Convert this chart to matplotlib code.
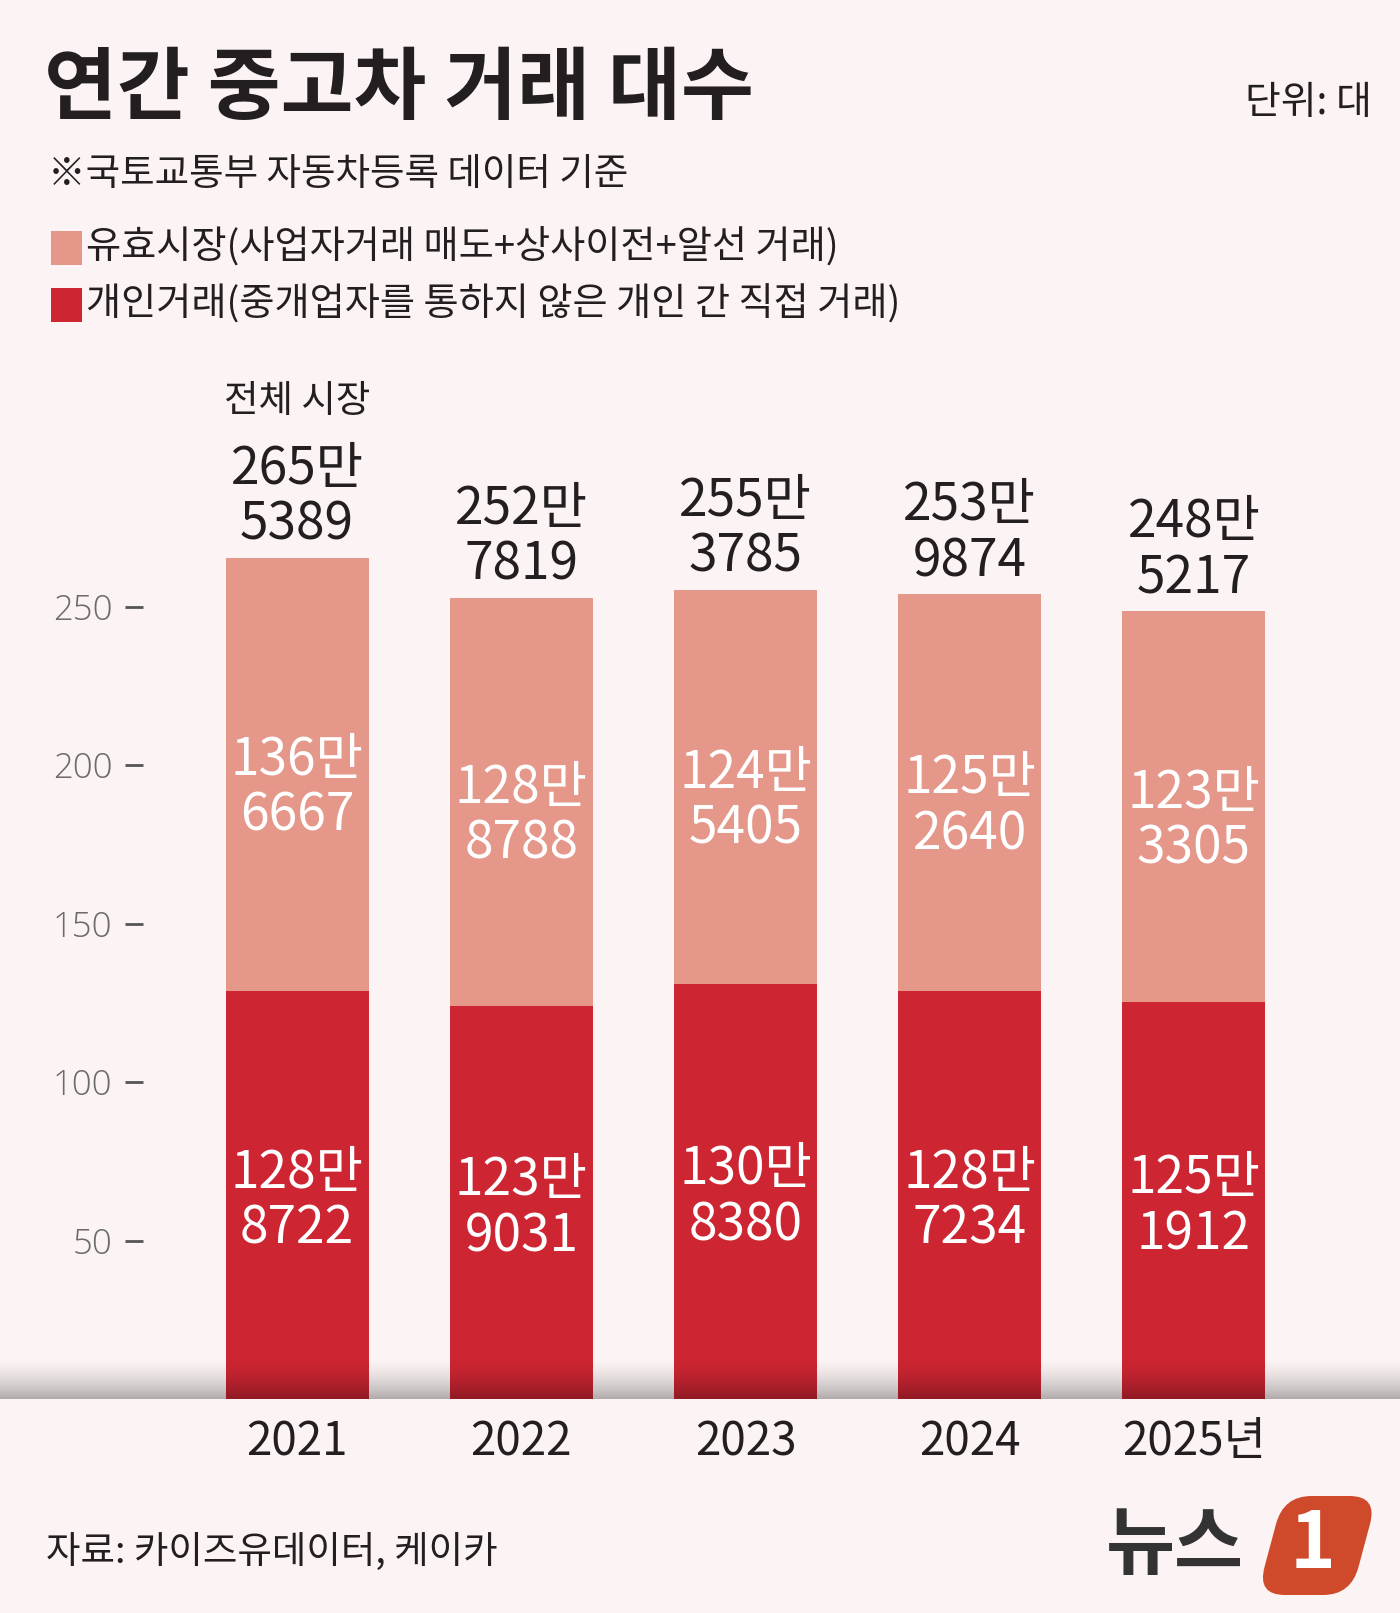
import numpy as np
import matplotlib.pyplot as plt
from matplotlib.patches import FancyBboxPatch, Rectangle
from matplotlib.transforms import Affine2D

# data (unit: 만 대)
years = ['2021', '2022', '2023', '2024', '2025년']
individual = [128.8722, 123.9031, 130.8380, 128.7234, 125.1912]
effective = [136.6667, 128.8788, 124.5405, 125.2640, 123.3305]
individual_lbl = ['128만\n8722', '123만\n9031', '130만\n8380', '128만\n7234', '125만\n1912']
effective_lbl = ['136만\n6667', '128만\n8788', '124만\n5405', '125만\n2640', '123만\n3305']
total_lbl = ['265만\n5389', '252만\n7819', '255만\n3785', '253만\n9874', '248만\n5217']
yticks = [50, 100, 150, 200, 250]

BG = '#fcf4f4'
RED = '#cd2532'
SALMON = '#e5978a'
INK = '#231f20'
KR = ['Noto Sans CJK KR', 'DejaVu Sans']

W, H = 1400, 1613
fig = plt.figure(figsize=(W / 100, H / 100), dpi=100, facecolor=BG)


def fx(x):
    return x / W


def fy(y):
    return 1 - y / H


def pt(px):
    return px * 0.72


# header
fig.text(fx(44), fy(90), '연간 중고차 거래 대수', family=KR, fontsize=57, fontweight='bold',
         color=INK, va='center', ha='left')
fig.text(fx(1372), fy(103), '단위: 대', family=KR, fontsize=28, color=INK, va='center', ha='right')
fig.text(fx(48), fy(175), '※국토교통부 자동차등록 데이터 기준', family=KR, fontsize=27, color=INK,
         va='center', ha='left')

legend_items = [(SALMON, '유효시장(사업자거래 매도+상사이전+알선 거래)', 248),
                (RED, '개인거래(중개업자를 통하지 않은 개인 간 직접 거래)', 305)]
for col, txt, yc in legend_items:
    fig.patches.append(Rectangle((fx(51), fy(yc + 17)), 31 / W, 34 / H, transform=fig.transFigure,
                                 facecolor=col, edgecolor='none'))
    fig.text(fx(86), fy(yc), txt, family=KR, fontsize=27.5, color=INK, va='center', ha='left')

# chart
ax = fig.add_axes([fx(162.5), fy(1399), 1166 / W, (1399 - 480) / H])
ax.set_facecolor('none')
x = np.arange(len(years))
bw = 0.638
ax.bar(x, individual, width=bw, color=RED, zorder=2)
tops = np.array(individual) + np.array(effective)
ax.bar(x, effective, bottom=individual, width=bw, color=SALMON, zorder=2)
ax.set_xlim(-0.6, 4.6)
ax.set_ylim(0, 290)

for s in ['top', 'right', 'bottom']:
    ax.spines[s].set_visible(False)
ax.spines['left'].set_position(('outward', pt(20)))
ax.spines['left'].set_visible(False)
ax.set_yticks(yticks, [str(v) for v in yticks])
ax.tick_params(axis='y', length=pt(18), width=2, color='#555555', pad=pt(12),
               labelsize=25, labelcolor='#6b6b6b')
for lab in ax.get_yticklabels():
    lab.set_family(['Open Sans', 'DejaVu Sans'])
    lab.set_fontweight('light')
ax.set_xticks(x, years)
ax.tick_params(axis='x', length=0, pad=pt(19), labelsize=33, labelcolor=INK)
for lab in ax.get_xticklabels():
    lab.set_family(KR)

fs = 37
for i in range(len(years)):
    ax.annotate(individual_lbl[i], (x[i], individual[i] / 2), xytext=(0, pt(-6)),
                textcoords='offset points', ha='center', va='center', fontsize=fs,
                family=KR, color='white', linespacing=1.06, zorder=4)
    ax.annotate(effective_lbl[i], (x[i], individual[i] + effective[i] / 2), xytext=(0, pt(-14)),
                textcoords='offset points', ha='center', va='center', fontsize=fs,
                family=KR, color='white', linespacing=1.06, zorder=4)
    ax.annotate(total_lbl[i], (x[i], tops[i]), xytext=(0, pt(6)),
                textcoords='offset points', ha='center', va='bottom', fontsize=fs,
                family=KR, color=INK, linespacing=1.06, zorder=4)

ax.annotate('전체 시장', (x[0], tops[0]), xytext=(0, pt(156)), textcoords='offset points',
            ha='center', va='center', fontsize=27, family=KR, color=INK)

# shadow at the base line
sh = fig.add_axes([0, fy(1399), 1, 43 / H], zorder=5)
t = np.linspace(0, 1, 64)[:, None]
grad = np.zeros((64, 2, 4))
grad[..., 3] = 0.30 * (t ** 1.6)
sh.imshow(grad, aspect='auto', extent=(0, 1, 0, 1), origin='upper')
sh.axis('off')

# footer
fig.text(fx(46), fy(1553), '자료: 카이즈유데이터, 케이카', family=KR, fontsize=27, color=INK,
         va='center', ha='left')
fig.text(fx(1175), fy(1546), '뉴스', family=KR, fontsize=54, fontweight='bold', color='#333333',
         va='center', ha='center')
y0 = H - 1595
logo_tr = Affine2D().translate(0, -y0).skew_deg(15, 0).translate(0, y0)
fig.patches.append(FancyBboxPatch((1257, y0), 94, 99, boxstyle='round,pad=0,rounding_size=28',
                                  transform=logo_tr, facecolor='#cf4a2a', edgecolor='none'))
fig.text(fx(1313), fy(1545), '1', family=KR, fontsize=56, fontweight='bold', color='white',
         va='center', ha='center')

fig.savefig('out.png', dpi=100, facecolor=BG)
